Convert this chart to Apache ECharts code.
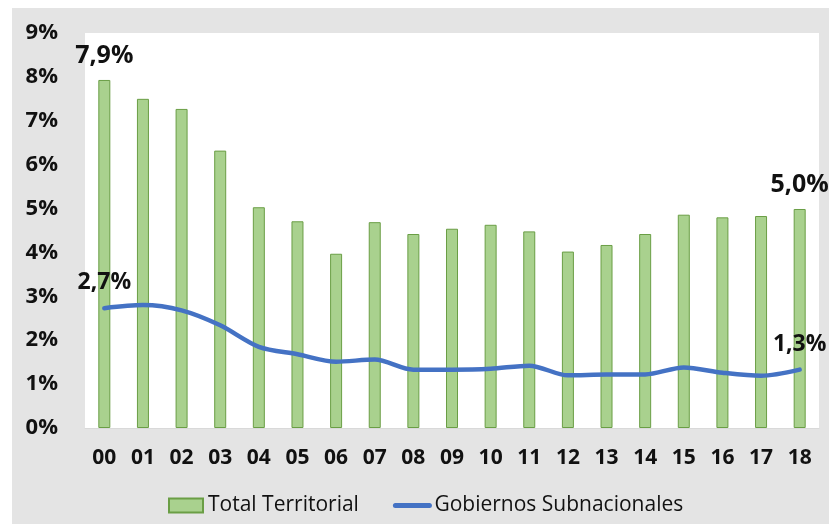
<!DOCTYPE html>
<html>
<head>
<meta charset="utf-8">
<script src="https://cdn.jsdelivr.net/npm/echarts@6/dist/echarts.min.js"></script>
<style>
  html, body { margin: 0; padding: 0; background: #ffffff; }
  #chart { position: absolute; left: 12px; top: 8px; width: 817px; height: 516px; background: #e4e4e4; }
</style>
</head>
<body>
<div id="chart"></div>
<script>
// categorías (años)
const years = ['00', '01', '02', '03', '04', '05', '06', '07', '08', '09', '10', '11', '12', '13', '14', '15', '16', '17', '18']
// Total Territorial (%)
const totalTerritorial = [7.93, 7.5, 7.27, 6.32, 5.03, 4.71, 3.97, 4.69, 4.42, 4.54, 4.63, 4.48, 4.02, 4.17, 4.42, 4.86, 4.8, 4.83, 4.99]
// Gobiernos Subnacionales (%)
const gobiernosSub = [2.73, 2.8, 2.68, 2.34, 1.85, 1.68, 1.51, 1.56, 1.33, 1.33, 1.35, 1.42, 1.2, 1.22, 1.22, 1.38, 1.26, 1.19, 1.33]
const yTicks = [0, 1, 2, 3, 4, 5, 6, 7, 8, 9]

const FONT = 'Open Sans'
const fmt = (v) => v.toFixed(1).replace('.', ',') + '%'
const last = years.length - 1

// etiqueta común para los extremos
const endLabel = (size, dist) => ({
  show: true, position: 'top', distance: dist,
  fontFamily: FONT, fontSize: size, fontWeight: 'bold', color: '#111', opacity: 1,
  formatter: (p) => fmt(Array.isArray(p.value) ? p.value[1] : p.value),
})

const chart = echarts.init(document.getElementById('chart'))

const option = {
  animation: false,
  textStyle: { fontFamily: FONT },
  grid: {
    left: 73,
    right: 10,
    top: 25,
    bottom: 96,
    show: true,
    backgroundColor: '#ffffff',
    borderWidth: 0,
  },
  legend: {
    top: 482,
    left: 151,
    itemWidth: 34,
    itemHeight: 14,
    itemGap: 34,
    textStyle: { fontFamily: FONT, fontSize: 21, color: '#111' },
    data: [
      { name: 'Total Territorial', icon: 'rect' },
      { name: 'Gobiernos Subnacionales', itemStyle: { opacity: 0 }, lineStyle: { width: 5 } },
    ],
  },
  xAxis: {
    type: 'category',
    data: years,
    axisLine: { lineStyle: { color: '#d9d9d9', width: 1 } },
    axisTick: { show: false },
    axisLabel: { fontFamily: FONT, fontSize: 21, fontWeight: 'bold', color: '#111', margin: 20 },
  },
  yAxis: {
    type: 'value',
    min: yTicks[0],
    max: yTicks[yTicks.length - 1],
    interval: 1,
    splitLine: { show: false },
    axisLine: { show: false },
    axisTick: { show: false },
    axisLabel: {
      fontFamily: FONT, fontSize: 22, fontWeight: 'bold', color: '#111', margin: 27,
      formatter: (v) => v + '%',
    },
  },
  series: [
    {
      name: 'Total Territorial',
      type: 'bar',
      barWidth: 12,
      itemStyle: { color: '#a9d18e', borderColor: '#6a9e45', borderWidth: 1 },
      label: endLabel(25, 12),
      data: totalTerritorial.map((v, i) => ({ value: v, label: { show: i === 0 || i === last } })),
    },
    {
      name: 'Gobiernos Subnacionales',
      type: 'line',
      smooth: 0.3,
      symbol: 'none',
      lineStyle: { color: '#4472c4', width: 4.5, cap: 'round' },
      itemStyle: { color: '#4472c4' },
      data: gobiernosSub,
    },
    {
      // solo sirve para las etiquetas del primer y último punto de la línea
      name: 'etiquetas',
      type: 'scatter',
      symbolSize: 0,
      silent: true,
      itemStyle: { opacity: 1 },
      label: endLabel(23, 14),
      data: [[0, gobiernosSub[0]], [last, gobiernosSub[last]]],
    },
  ],
}

chart.setOption(option)
</script>
</body>
</html>
